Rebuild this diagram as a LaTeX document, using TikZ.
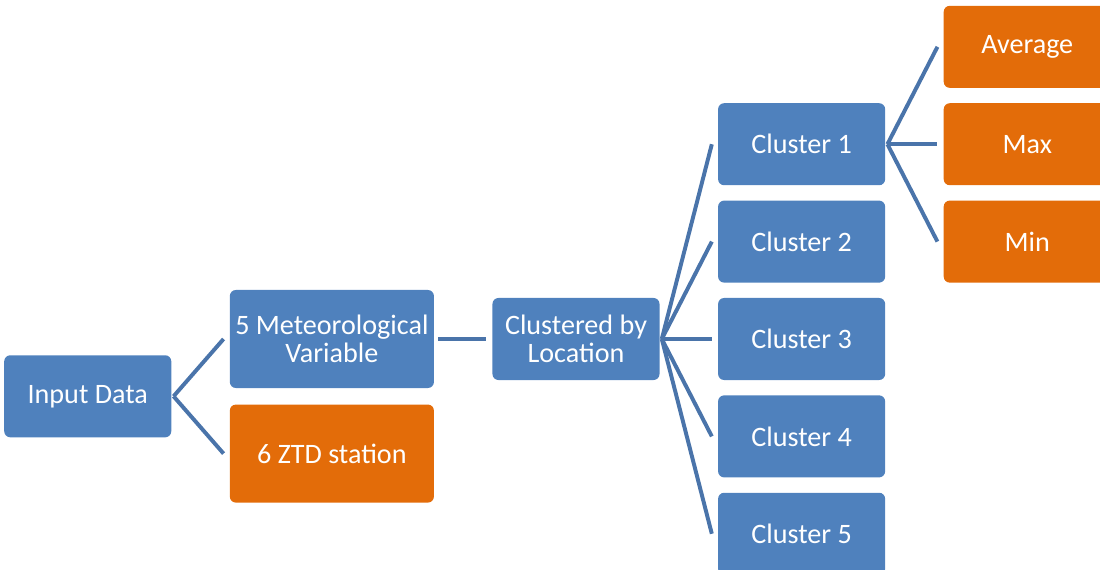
\documentclass[tikz,border=0pt]{standalone}
\usepackage{fontspec}
\setmainfont{Carlito}
\usetikzlibrary{positioning, calc}
\definecolor{boxblue}{HTML}{4F81BD}
\definecolor{boxorange}{HTML}{E36C09}
\definecolor{linkblue}{HTML}{4A74AA}

\begin{document}
\begin{tikzpicture}[
    x=0.025cm, y=-0.025cm,
    node distance = 0.37cm and 1.45cm,
    item/.style = {rectangle, rounded corners=0.15cm, fill=boxblue, text=white, align=center, minimum width=4.175cm, minimum height=2.05cm, inner sep=2pt, font=\fontsize{20}{20}\selectfont},
    wide/.style = {item, minimum width=5.1cm, minimum height=2.45cm},
    hot/.style = {fill=boxorange},
    link/.style = {draw=linkblue, line width=2.8pt}
]
    \useasboundingbox (0,0) rectangle (1100,570);
    \clip (0,0) rectangle (1100,570);

    % Nodes - middle of the tree
    \node (clus) [item] at (576,339) {Clustered by\\Location};
    \node (met) [wide, left=of clus] {5 Meteorological\\Variable};
    \node (ztd) [wide, hot, below=0.4cm of met] {6 ZTD station};
    \node (input) [item, left=of $(met.west)!0.5!(ztd.west)$] {Input Data};

    % Clusters
    \node (c3) [item, right=of clus] {Cluster 3};
    \node (c2) [item, above=of c3] {Cluster 2};
    \node (c1) [item, above=of c2] {Cluster 1};
    \node (c4) [item, below=of c3] {Cluster 4};
    \node (c5) [item, below=of c4] {Cluster 5};

    % Statistics of cluster 1
    \node (max) [item, hot, right=of c1] {Max};
    \node (avg) [item, hot, above=of max] {Average};
    \node (min) [item, hot, below=of max] {Min};

    % Edges
    \path [link] ([xshift=0.05cm]input.east) -- ([xshift=-0.15cm]met.west);
    \path [link] ([xshift=0.05cm]input.east) -- ([xshift=-0.15cm]ztd.west);
    \path [link] ([xshift=0.1cm]met.east) -- ([xshift=-0.15cm]clus.west);
    \foreach \c in {c1,c2,c3,c4,c5}
        \path [link] ([xshift=0.05cm]clus.east) -- ([xshift=-0.15cm]\c.west);
    \foreach \s in {avg,max,min}
        \path [link] ([xshift=0.05cm]c1.east) -- ([xshift=-0.15cm]\s.west);

\end{tikzpicture}
\end{document}
